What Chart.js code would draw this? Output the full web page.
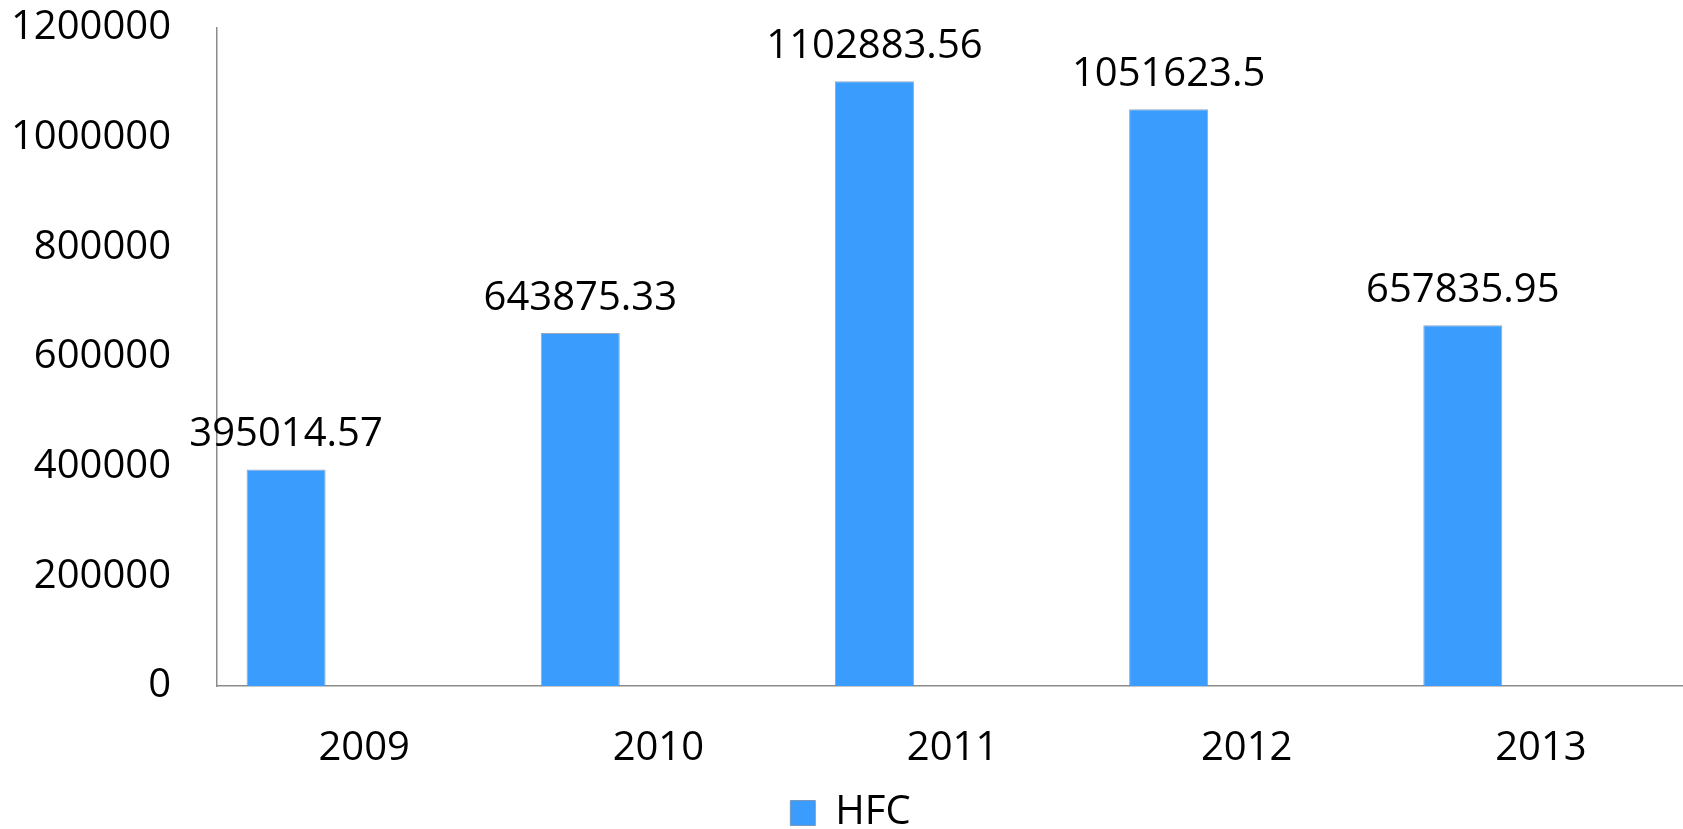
<!DOCTYPE html>
<html>
<head>
<meta charset="utf-8">
<script src="https://cdn.jsdelivr.net/npm/chart.js@4.4.0/dist/chart.umd.min.js"></script>
<style>
  html, body { margin: 0; padding: 0; background: #fff; overflow: hidden; }
  #wrap { position: relative; width: 1690px; height: 829px; }
</style>
</head>
<body>
<div id="wrap"><canvas id="hfcChart"></canvas></div>
<script>
const years = ['2009', '2010', '2011', '2012', '2013'];
const hfcValues = [395014.57, 643875.33, 1102883.56, 1051623.5, 657835.95];
const emptySlot = [null, null, null, null, null];
const yTicks = [0, 200000, 400000, 600000, 800000, 1000000, 1200000];

const FONT = '"Open Sans", "Noto Sans", sans-serif';
const barBlue = '#3a9cfc';
const axisGrey = '#8c8c8c';

// vẽ nhãn giá trị trên đỉnh cột
const valueLabels = {
    id: 'valueLabels',
    afterDatasetsDraw(chart) {
        const ctx = chart.ctx;
        const meta = chart.getDatasetMeta(0);
        ctx.save();
        ctx.font = '40px ' + FONT;
        ctx.fillStyle = '#000';
        ctx.textAlign = 'center';
        ctx.textBaseline = 'alphabetic';
        meta.data.forEach((bar, i) => {
            ctx.fillText(String(hfcValues[i]), bar.x, bar.y - 23);
        });
        ctx.restore();
    }
};

new Chart(document.getElementById('hfcChart').getContext('2d'), {
    type: 'bar',
    data: {
        labels: years,
        datasets: [
            {
                label: 'HFC',
                data: hfcValues,
                backgroundColor: barBlue,
                borderColor: 'rgba(110,130,160,0.7)',
                borderWidth: 1,
                categoryPercentage: 1.062,
                barPercentage: 0.506
            },
            {
                label: '',
                data: emptySlot,
                backgroundColor: 'rgba(0,0,0,0)',
                borderWidth: 0,
                categoryPercentage: 1.062,
                barPercentage: 0.506
            }
        ]
    },
    options: {
        responsive: true,
        maintainAspectRatio: false,
        animation: false,
        layout: { padding: { top: 28, left: 13, right: 2, bottom: -14 } },
        scales: {
            x: {
                afterFit: (axis) => { axis.height -= 19; },
                grid: { display: false, drawTicks: false },
                border: { display: true, color: axisGrey, width: 1.5 },
                ticks: { color: '#000', font: { family: FONT, size: 40 }, padding: 39, maxRotation: 0 }
            },
            y: {
                min: 0,
                max: 1200000,
                afterBuildTicks: (axis) => { axis.ticks = yTicks.map(v => ({ value: v })); },
                afterFit: (axis) => { axis.paddingTop = 24; axis.paddingBottom = 24; axis.width -= 48; },
                grid: { display: false, drawTicks: false },
                border: { display: true, color: axisGrey, width: 1.5 },
                ticks: {
                    color: '#000',
                    font: { family: FONT, size: 40 },
                    padding: 46,
                    callback: (value) => String(value)
                }
            }
        },
        plugins: {
            legend: {
                position: 'bottom',
                labels: {
                    color: '#000',
                    font: { family: FONT, size: 40 },
                    boxWidth: 25,
                    boxHeight: 25,
                    padding: 0,
                    filter: (item) => item.datasetIndex === 0
                }
            },
            tooltip: { enabled: false }
        }
    },
    plugins: [valueLabels]
});
</script>
</body>
</html>
